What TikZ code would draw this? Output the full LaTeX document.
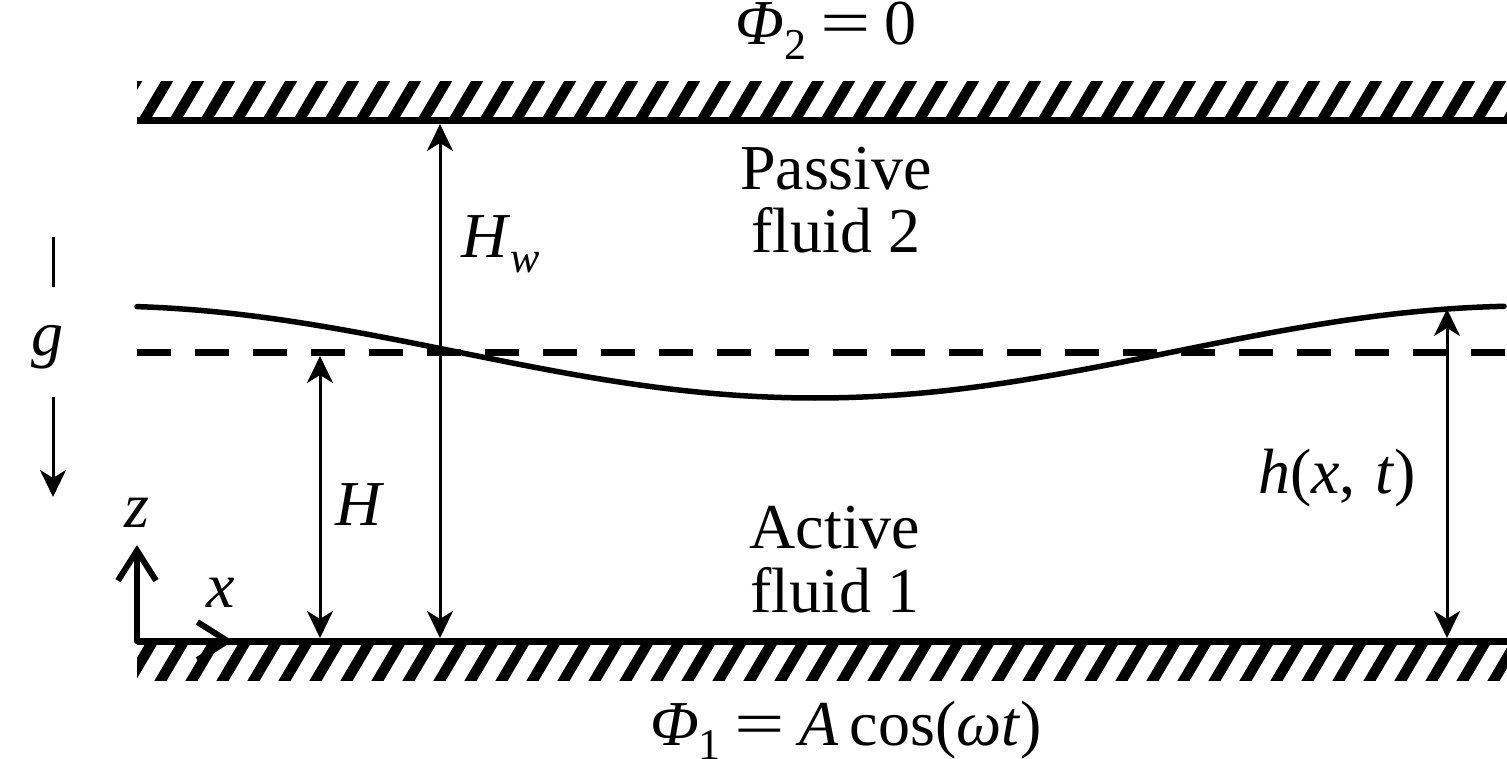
\documentclass[tikz,border=0pt]{standalone}
\usepackage{fontspec}
\usepackage{graphicx}
\setmainfont{Liberation Serif}
\usetikzlibrary{arrows.meta}
\newcommand\lowsub[1]{\raisebox{-0.22em}{\fontsize{44}{48}\selectfont #1}}
\newcommand\wideeq{\hspace{0.22em}\scalebox{1.4}[1]{=}\hspace{0.22em}}
\begin{document}
\begin{tikzpicture}[x=1pt,y=-1pt,
  lbl/.style={inner sep=0pt, font=\fontsize{64}{69}\selectfont},
  dim/.style={line width=3pt, {Stealth[length=27pt,width=26pt,inset=8pt]}-{Stealth[length=27pt,width=26pt,inset=8pt]}},
  onearrow/.style={line width=3pt, -{Stealth[length=27pt,width=26pt,inset=8pt]}},
  plainline/.style={line width=3pt},
  wall/.style={line width=7pt},
  hatchline/.style={line width=10.5pt},
  surface/.style={line width=5.5pt, line cap=round},
  meanlevel/.style={line width=7pt, dash pattern=on 34pt off 24pt},
  axis/.style={line width=6pt, line cap=round, line join=round, -{Straight Barb[length=30pt,width=38pt]}}
]
\useasboundingbox (0,0) rectangle (1507,759);

% hatched bands
\begin{scope}
  \clip (137,82) rectangle (1507,117);
  \foreach \i in {0,...,46} { \draw[hatchline] ({112+31*\i},122) -- ({112+31*\i+26},78); }
\end{scope}
\begin{scope}
  \clip (137,645) rectangle (1507,680);
  \foreach \i in {0,...,46} { \draw[hatchline] ({96+31*\i},685) -- ({96+31*\i+26},641); }
\end{scope}

% walls
\coordinate (tl) at (137,120.5); \coordinate (tr) at (1507,120.5);
\coordinate (bl) at (137,641.5); \coordinate (br) at (1507,641.5);
\draw[wall] (tl) -- (tr);
\draw[wall] (bl) -- (br);

% interface and mean level
\draw[surface] plot[domain=137:1504, samples=120, smooth] (\x, {352-46*cos((\x-100)/715*180)});
\coordinate (dl) at (137,352); \coordinate (dr) at (1507,352);
\draw[meanlevel] (dl) -- (dr);

% dimension arrows
\coordinate (hwT) at (440,124); \coordinate (hwB) at (440,638);
\draw[dim] (hwB) -- (hwT);
\coordinate (hT) at (320,356); \coordinate (hB) at (320,638);
\draw[dim] (hB) -- (hT);
\coordinate (htT) at (1447,309); \coordinate (htB) at (1447,638);
\draw[dim] (htB) -- (htT);

% gravity
\coordinate (gA) at (53,237); \coordinate (gB) at (53,287);
\coordinate (gC) at (53,397); \coordinate (gD) at (53,497);
\draw[plainline] (gA) -- (gB);
\draw[onearrow] (gC) -- (gD);

% axes
\coordinate (O) at (137,641); \coordinate (zT) at (137,545); \coordinate (xT) at (233,641);
\draw[axis] (O) -- (zT);
\draw[axis] (O) -- (xT);

% labels
\node[lbl, anchor=base] (phi2) at (826,45) {\textit{Φ}\lowsub{2}\wideeq 0};
\node[lbl, anchor=base] (passive) at (836,190) {Passive};
\node[lbl, anchor=base] (fluid2) at (836,253) {fluid 2};
\node[lbl, anchor=base] (active) at (835,548) {Active};
\node[lbl, anchor=base] (fluid1) at (835,612) {fluid 1};
\node[lbl, anchor=base] (phi1) at (846,745) {\textit{Φ}\lowsub{1}\wideeq\textit{A}\hspace{0.17em}cos(\textit{ωt})};
\node[lbl, anchor=base west] (hwlbl) at (461,258) {\textit{H}\lowsub{\textit{w}}};
\node[lbl, anchor=base west] (hlbl) at (335,525) {\textit{H}};
\node[lbl, anchor=base west] (zlbl) at (124,527) {\textit{z}};
\node[lbl, anchor=base west] (xlbl) at (206,607) {\textit{x}};
\node[lbl, anchor=base west] (htlbl) at (1258,493) {\textit{h}(\textit{x},\hspace{0.3em}\textit{t})};
\node[lbl, anchor=base west] (glbl) at (31,355) {\textit{g}};
\end{tikzpicture}
\end{document}
